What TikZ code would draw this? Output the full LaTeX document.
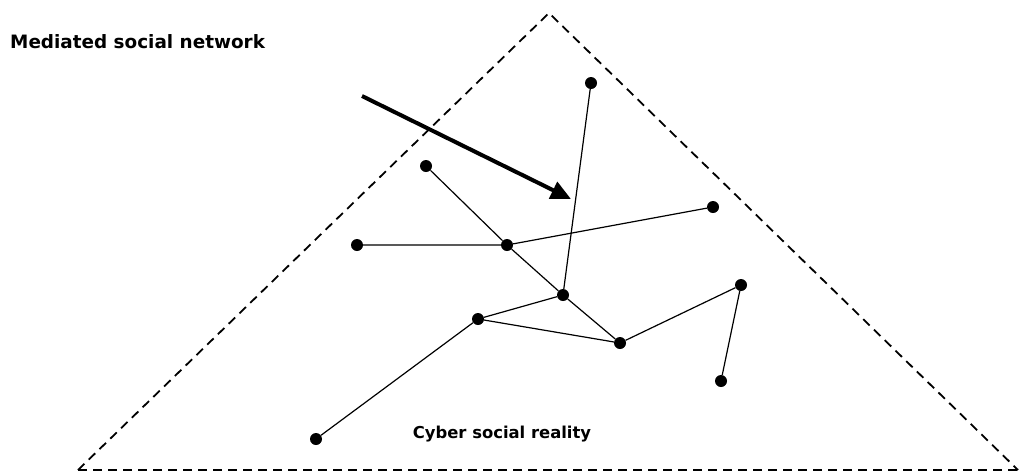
\documentclass[tikz,border=0pt]{standalone}
\usepackage{fontspec}
\setmainfont{DejaVu Sans}
\usetikzlibrary{arrows.meta}
\begin{document}
\begin{tikzpicture}[x=1pt,y=-1pt,
  dot/.style={circle,fill=black,inner sep=0pt,minimum size=12pt},
  edge/.style={line width=1.2pt},
  tri/.style={dashed,line width=1.8pt,dash pattern=on 9pt off 6pt},
  lbl/.style={font=\bfseries,inner sep=0pt}]
\useasboundingbox (0,0) rectangle (1021,475);
\coordinate (apex) at (549,13);
\coordinate (bl) at (78,470);
\coordinate (br) at (1018,470);
\draw[tri] (bl) -- (apex) -- (br);
\draw[tri,line width=2.6pt] (bl) -- (br);
\node[dot] (A) at (591,83) {};
\node[dot] (B) at (426,166) {};
\node[dot] (C) at (713,207) {};
\node[dot] (D) at (357,245) {};
\node[dot] (E) at (507,245) {};
\node[dot] (F) at (563,295) {};
\node[dot] (G) at (741,285) {};
\node[dot] (H) at (478,319) {};
\node[dot] (I) at (620,343) {};
\node[dot] (J) at (721,381) {};
\node[dot] (K) at (316,439) {};
\draw[edge] (B) -- (E) -- (F) -- (I);
\draw[edge] (D) -- (E) -- (C);
\draw[edge] (A) -- (F) -- (H) -- (I) -- (G) -- (J);
\draw[edge] (H) -- (K);
\coordinate (as) at (362,96);
\coordinate (ae) at (571,199);
\draw[line width=4pt,-{Triangle[length=20pt,width=18pt]}] (as) -- (ae);
\node[lbl,anchor=base west,font=\bfseries\fontsize{18.4}{22}\selectfont] (t1) at (10,48) {Mediated social network};
\node[lbl,anchor=base,font=\bfseries\fontsize{16.4}{20}\selectfont] (t2) at (502,438) {Cyber social reality};
\end{tikzpicture}
\end{document}
